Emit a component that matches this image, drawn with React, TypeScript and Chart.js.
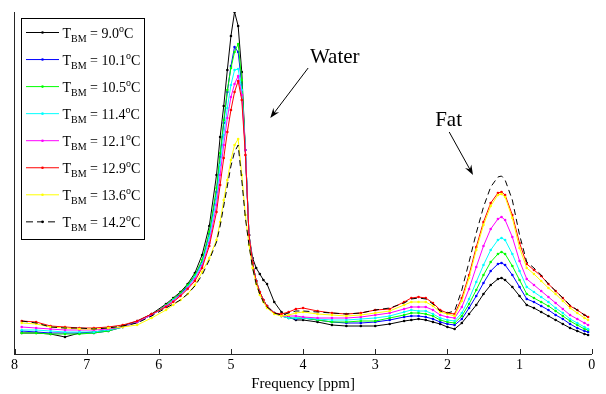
import React, { useEffect, useRef } from 'react';
import { Chart, registerables } from 'chart.js';

Chart.register(...registerables);

// Chemical shift grid (ppm)
const PPM = [7.9, 7.7, 7.5, 7.3, 7.1, 6.9, 6.7, 6.5, 6.3, 6.1,
  5.9, 5.8, 5.7, 5.6, 5.5, 5.4, 5.3, 5.2,
  5.15, 5.1, 5.05, 5.0, 4.95, 4.9, 4.85, 4.8, 4.75, 4.7, 4.65, 4.6, 4.55, 4.5,
  4.4, 4.3, 4.2, 4.1, 4.0,
  3.8, 3.6, 3.4, 3.2, 3.0, 2.8, 2.6,
  2.5, 2.4, 2.3, 2.2, 2.1, 2.0, 1.9, 1.8, 1.7, 1.6, 1.5, 1.4, 1.3,
  1.25, 1.2, 1.1, 1.0, 0.9, 0.8, 0.7, 0.6, 0.5, 0.4, 0.3, 0.2, 0.1, 0.05];

const TEMPS = ['9.0', '10.1', '10.5', '11.4', '12.1', '12.9', '13.6', '14.2'];
const COLORS = ['#000000', '#0000ff', '#00ff00', '#00ffff', '#ff00ff', '#ff0000', '#ffff00', '#000000'];

// Signal intensity (arbitrary units)
const T_9_0 = [17, 17, 16, 13, 17, 18, 20, 24, 29, 36,
  46, 52, 58, 66, 77, 95, 124, 175,
  213, 244, 280, 314, 338, 324, 278, 200, 115, 92, 82, 76, 70, 66,
  48, 38, 33, 30, 30,
  28, 25, 24, 24, 24, 26, 29,
  30, 31, 30, 28, 26, 23, 21, 27, 36, 45, 56, 65, 71,
  72, 70, 63, 54, 45, 42, 38, 34, 30, 26, 22, 19, 16, 15];
const T_10_1 = [19, 18, 17, 17, 17, 17, 19, 23, 28, 35,
  44, 50, 56, 64, 74, 88, 116, 158,
  193, 227, 258, 284, 303, 298, 265, 200, 115, 87, 69, 58, 50, 44,
  37, 34, 32, 31, 32,
  30, 28, 27, 27, 28, 30, 33,
  34, 34, 33, 31, 28, 26, 25, 31, 42, 54, 67, 79, 86,
  87, 85, 75, 63, 51, 48, 44, 40, 35, 31, 26, 22, 19, 18];
const T_10_5 = [17, 17, 16, 16, 16, 17, 19, 23, 28, 35,
  45, 51, 57, 65, 75, 90, 118, 162,
  197, 230, 260, 282, 298, 306, 270, 200, 115, 87, 69, 58, 50, 44,
  37, 34, 32, 32, 32,
  30, 28, 28, 29, 29, 32, 35,
  37, 37, 36, 34, 30, 28, 27, 34, 46, 60, 75, 88, 96,
  98, 96, 84, 70, 56, 52, 48, 44, 39, 34, 29, 25, 21, 20];
const T_11_4 = [20, 20, 19, 18, 18, 18, 20, 23, 28, 35,
  44, 50, 55, 63, 73, 86, 112, 152,
  185, 215, 242, 265, 280, 281, 260, 200, 115, 87, 69, 58, 50, 44,
  37, 34, 32, 32, 32,
  31, 30, 30, 31, 32, 34, 38,
  40, 39, 39, 36, 32, 30, 29, 37, 51, 68, 85, 100, 110,
  112, 110, 96, 79, 63, 58, 53, 48, 42, 37, 31, 27, 23, 21];
const T_12_1 = [23, 22, 21, 20, 20, 20, 21, 23, 28, 35,
  44, 49, 55, 62, 71, 84, 107, 145,
  175, 205, 232, 253, 266, 274, 255, 200, 115, 87, 69, 58, 50, 44,
  37, 34, 34, 34, 33,
  32, 32, 32, 33, 35, 37, 41,
  43, 43, 43, 40, 35, 33, 32, 43, 61, 83, 104, 121, 131,
  133, 130, 113, 89, 71, 65, 59, 53, 47, 41, 35, 31, 27, 25];
const T_12_9 = [29, 28, 24, 23, 22, 22, 23, 25, 29, 36,
  43, 48, 54, 61, 69, 82, 104, 138,
  165, 192, 218, 240, 258, 269, 250, 195, 115, 87, 69, 58, 50, 44,
  37, 36, 38, 41, 42,
  39, 37, 36, 37, 40, 41, 48,
  52, 53, 52, 47, 40, 37, 36, 52, 75, 103, 128, 147, 157,
  158, 155, 135, 107, 86, 80, 74, 66, 59, 52, 44, 40, 35, 33];
const T_13_6 = [27, 26, 23, 22, 21, 21, 22, 23, 25, 32,
  40, 45, 50, 56, 65, 78, 92, 110,
  128, 150, 170, 190, 205, 211, 175, 135, 105, 82, 66, 55, 48, 42,
  36, 34, 35, 37, 38,
  36, 35, 34, 35, 37, 39, 45,
  48, 48, 48, 44, 38, 36, 34, 49, 72, 100, 125, 144, 155,
  156, 153, 132, 102, 82, 76, 69, 62, 56, 49, 42, 37, 32, 30];
const T_14_2 = [29, 27, 23, 22, 22, 21, 22, 24, 27, 34,
  42, 46, 50, 56, 64, 75, 90, 108,
  124, 144, 164, 184, 198, 205, 170, 132, 105, 82, 66, 56, 48, 43,
  37, 35, 37, 39, 39,
  38, 37, 36, 37, 40, 42, 47,
  51, 52, 51, 46, 39, 37, 39, 60, 88, 117, 143, 163, 173,
  174, 170, 150, 115, 88, 82, 75, 66, 59, 52, 45, 40, 35, 33];

const X_TICKS = [8, 7, 6, 5, 4, 3, 2, 1, 0];
const Y_MIN = -4;
const Y_MAX = 338;

// Annotations in data coordinates (ppm, intensity)
const WATER_LABEL = { text: 'Water', x: 3.905, y: 287 };
const WATER_ARROW = { x1: 3.93, y1: 282, x2: 4.455, y2: 232 };
const FAT_LABEL = { text: 'Fat', x: 2.17, y: 224 };
const FAT_ARROW = { x1: 1.975, y1: 218, x2: 1.645, y2: 175 };

const SERIF = '"Liberation Serif", "Times New Roman", serif';

function drawArrow(ctx: CanvasRenderingContext2D, x1: number, y1: number, x2: number, y2: number) {
  const ang = Math.atan2(y2 - y1, x2 - x1);
  const len = 10;
  const half = 3.6;
  ctx.beginPath();
  ctx.moveTo(x1, y1);
  ctx.lineTo(x2 - Math.cos(ang) * 5, y2 - Math.sin(ang) * 5);
  ctx.stroke();
  const bx = x2 - Math.cos(ang) * len;
  const by = y2 - Math.sin(ang) * len;
  const nx = -Math.sin(ang);
  const ny = Math.cos(ang);
  const mx = x2 - Math.cos(ang) * len * 0.65;
  const my = y2 - Math.sin(ang) * len * 0.65;
  ctx.beginPath();
  ctx.moveTo(x2, y2);
  ctx.lineTo(bx + nx * half, by + ny * half);
  ctx.lineTo(mx, my);
  ctx.lineTo(bx - nx * half, by - ny * half);
  ctx.closePath();
  ctx.fill();
}

const overlayPlugin = {
  id: 'overlay',
  afterDraw(chart: any) {
    const ctx: CanvasRenderingContext2D = chart.ctx;
    const xs = chart.scales.x;
    const ys = chart.scales.y;
    const area = chart.chartArea;
    ctx.save();

    // inward tick marks
    ctx.strokeStyle = '#262626';
    ctx.lineWidth = 1;
    for (const t of X_TICKS) {
      const px = Math.round(xs.getPixelForValue(t)) + 0.5;
      ctx.beginPath();
      ctx.moveTo(px, area.bottom);
      ctx.lineTo(px, area.bottom - 5);
      ctx.stroke();
    }

    // annotations
    ctx.fillStyle = '#000';
    ctx.strokeStyle = '#000';
    ctx.lineWidth = 1;
    ctx.font = `21px ${SERIF}`;
    ctx.textBaseline = 'alphabetic';
    ctx.textAlign = 'left';
    ctx.fillText(WATER_LABEL.text, xs.getPixelForValue(WATER_LABEL.x), ys.getPixelForValue(WATER_LABEL.y));
    ctx.fillText(FAT_LABEL.text, xs.getPixelForValue(FAT_LABEL.x), ys.getPixelForValue(FAT_LABEL.y));
    drawArrow(ctx, xs.getPixelForValue(WATER_ARROW.x1), ys.getPixelForValue(WATER_ARROW.y1),
      xs.getPixelForValue(WATER_ARROW.x2), ys.getPixelForValue(WATER_ARROW.y2));
    drawArrow(ctx, xs.getPixelForValue(FAT_ARROW.x1), ys.getPixelForValue(FAT_ARROW.y1),
      xs.getPixelForValue(FAT_ARROW.x2), ys.getPixelForValue(FAT_ARROW.y2));

    // legend box
    const bx = area.left + 6;
    const by = area.top + 5.5;
    const bw = 123;
    const bh = 221;
    ctx.fillStyle = '#fff';
    ctx.fillRect(bx, by, bw, bh);
    ctx.strokeStyle = '#000';
    ctx.lineWidth = 1;
    ctx.strokeRect(Math.round(bx) + 0.5, Math.round(by) + 0.5, bw, bh);

    const step = 27.05;
    chart.data.datasets.forEach((ds: any, i: number) => {
      const yy = by + 15 + i * step;
      const lx1 = bx + 5.5;
      const lx2 = bx + 38.5;
      ctx.save();
      ctx.strokeStyle = ds.borderColor;
      ctx.lineWidth = 1;
      ctx.setLineDash(ds.borderDash && ds.borderDash.length ? [7, 4] : []);
      ctx.beginPath();
      ctx.moveTo(lx1, yy);
      ctx.lineTo(lx2, yy);
      ctx.stroke();
      ctx.restore();
      ctx.fillStyle = ds.borderColor;
      ctx.beginPath();
      ctx.arc((lx1 + lx2) / 2, yy, 1.3, 0, Math.PI * 2);
      ctx.fill();

      // rich text: T_BM = xx.x °C
      ctx.fillStyle = '#000';
      let tx = bx + 42;
      const base = yy + 5.5;
      ctx.font = `14px ${SERIF}`;
      ctx.fillText('T', tx, base);
      tx += ctx.measureText('T').width;
      ctx.font = `10px ${SERIF}`;
      ctx.fillText('BM', tx, base + 4);
      tx += ctx.measureText('BM').width;
      ctx.font = `14px ${SERIF}`;
      const mid = ` = ${TEMPS[i]}`;
      ctx.fillText(mid, tx, base);
      tx += ctx.measureText(mid).width;
      ctx.font = `10px ${SERIF}`;
      ctx.fillText('o', tx, base - 6);
      tx += ctx.measureText('o').width;
      ctx.font = `14px ${SERIF}`;
      ctx.fillText('C', tx, base);
    });
    ctx.restore();
  },
};

export default function App() {
  const ref = useRef<HTMLCanvasElement>(null);

  useEffect(() => {
    if (!ref.current) return;
    const series = [T_9_0, T_10_1, T_10_5, T_11_4, T_12_1, T_12_9, T_13_6, T_14_2];
    const datasets = series.map((vals, i) => ({
      label: `T_BM = ${TEMPS[i]}°C`,
      data: PPM.map((x, j) => ({ x, y: vals[j] })),
      borderColor: COLORS[i],
      backgroundColor: COLORS[i],
      borderWidth: 1,
      borderDash: i === 7 ? [6, 4] : [],
      pointRadius: i === 7 ? 0 : 1.3,
      pointBorderWidth: 0,
      pointBackgroundColor: COLORS[i],
      tension: 0,
      fill: false,
      order: 8 - i,
    }));

    const chart = new Chart(ref.current, {
      type: 'line',
      data: { datasets },
      options: {
        responsive: false,
        animation: false,
        layout: { padding: { left: 14.5, right: 14.3, top: 12, bottom: 0 } },
        plugins: { legend: { display: false }, tooltip: { enabled: false } },
        scales: {
          x: {
            type: 'linear',
            min: 0,
            max: 8,
            reverse: true,
            afterFit: (scale: any) => { scale.height = 40; },
            grid: { display: false, drawTicks: false, tickLength: 0 },
            border: { display: true, color: '#262626', width: 1 },
            ticks: {
              stepSize: 1,
              autoSkip: false,
              maxRotation: 0,
              padding: 3,
              color: '#000',
              font: { family: SERIF, size: 14, lineHeight: 1.2 },
            },
            title: {
              display: true,
              text: 'Frequency [ppm]',
              color: '#000',
              padding: { top: 0, bottom: 1 },
              font: { family: SERIF, size: 15, lineHeight: 1.2 },
            },
          },
          y: {
            min: Y_MIN,
            max: Y_MAX,
            grid: { display: false, drawTicks: false, tickLength: 0 },
            border: { display: true, color: '#262626', width: 1 },
            ticks: { display: false },
          },
        },
      },
      plugins: [overlayPlugin],
    });
    return () => chart.destroy();
  }, []);

  return (
    <div style={{ position: 'absolute', left: 0, top: 0, width: 606, height: 394, background: '#fff' }}>
      <canvas ref={ref} width={606} height={394} style={{ display: 'block' }} />
    </div>
  );
}
